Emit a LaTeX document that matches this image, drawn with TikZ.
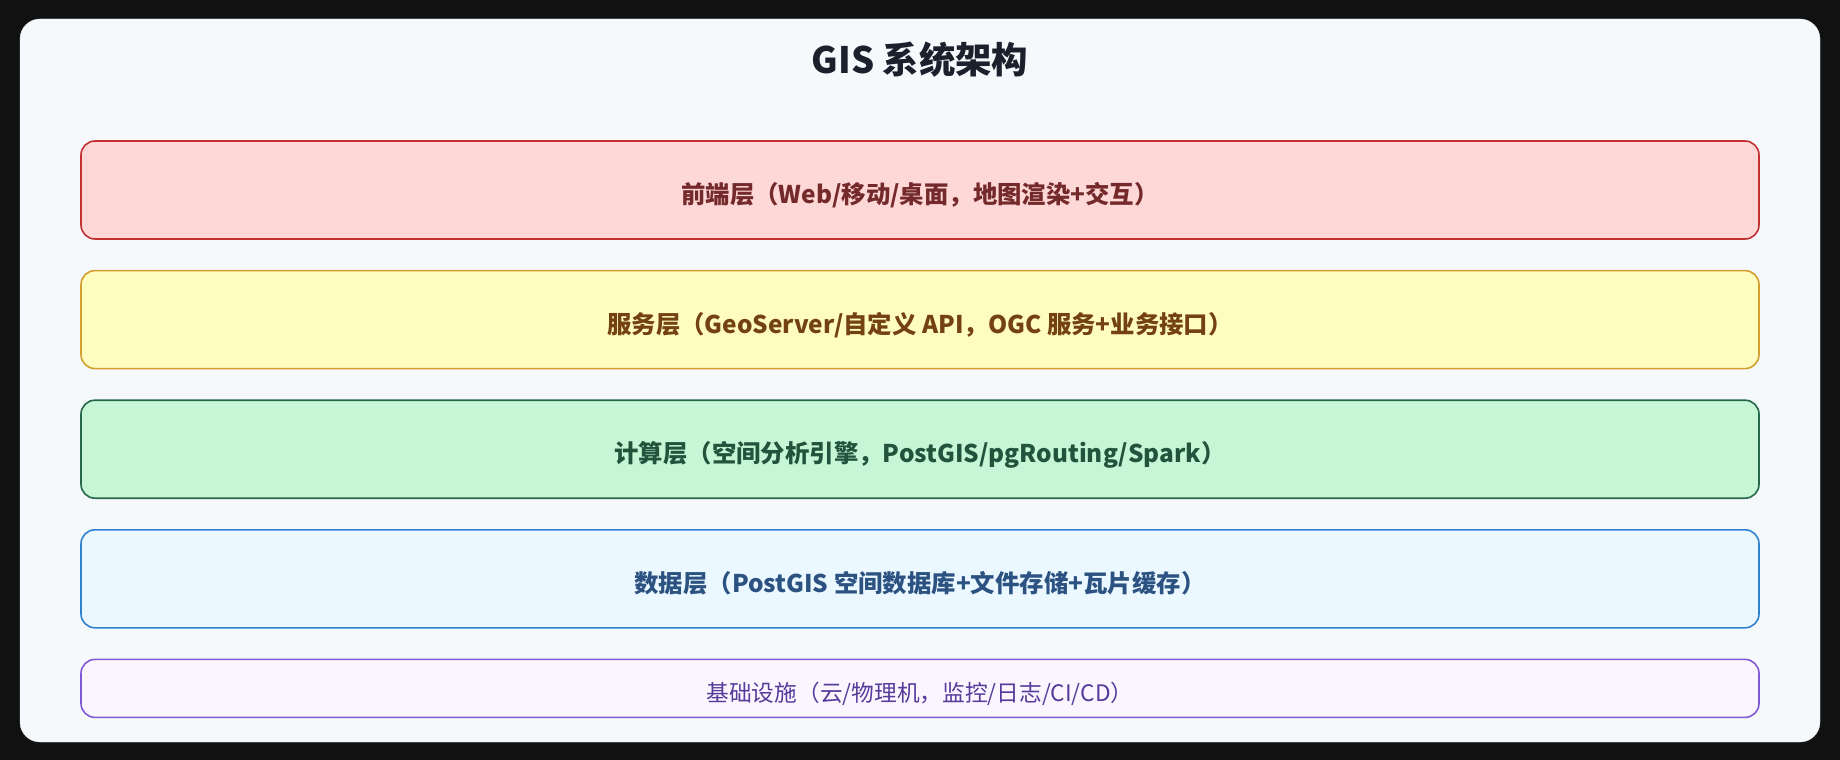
\documentclass[tikz,border=0pt]{standalone}
\usepackage{fontspec}
\setmainfont{Noto Sans CJK SC}
\usetikzlibrary{positioning}

\definecolor{bgdark}{HTML}{111111}
\definecolor{cardbg}{HTML}{F5F9FC}
\definecolor{cardline}{HTML}{E2E8F0}
\definecolor{titletext}{HTML}{1A202C}
\definecolor{frontfill}{HTML}{FED7D7}
\definecolor{frontline}{HTML}{C53030}
\definecolor{fronttext}{HTML}{742A2A}
\definecolor{servicefill}{HTML}{FEFCBF}
\definecolor{serviceline}{HTML}{D69E2E}
\definecolor{servicetext}{HTML}{744210}
\definecolor{computefill}{HTML}{C6F6D5}
\definecolor{computeline}{HTML}{276749}
\definecolor{computetext}{HTML}{22543D}
\definecolor{datafill}{HTML}{EBF8FF}
\definecolor{dataline}{HTML}{3182CE}
\definecolor{datatext}{HTML}{2C5282}
\definecolor{infrafill}{HTML}{FAF5FF}
\definecolor{infraline}{HTML}{805AD5}
\definecolor{infratext}{HTML}{553C9A}

\begin{document}
\begin{tikzpicture}[x=1pt,y=1pt,node distance=30pt,
    layer/.style={draw,line width=1.6pt,rounded corners=14pt,minimum width=1678pt,
                  minimum height=98pt,inner sep=0pt,text height=27pt,text depth=0pt,
                  font=\fontsize{24.4}{29}\selectfont\bfseries}]
    % Hintergrund
    \fill[bgdark] (0,0) rectangle (1840,-760);
    \draw[cardline,fill=cardbg,rounded corners=20pt] (20,-19) rectangle (1820,-742);

    % Titel
    \node[font=\fontsize{36.4}{42}\selectfont\bfseries,text=titletext] (titel) at (920,-60) {GIS 系统架构};

    % Schichten
    \node[layer,draw=frontline,fill=frontfill,text=fronttext] (front) at (920,-190)
        {前端层（Web/移动/桌面，地图渲染+交互）};
    \node[layer,draw=serviceline,fill=servicefill,text=servicetext,below=of front] (service)
        {服务层（GeoServer/自定义 API，OGC 服务+业务接口）};
    \node[layer,draw=computeline,fill=computefill,text=computetext,below=of service] (compute)
        {计算层（空间分析引擎，PostGIS/pgRouting/Spark）};
    \node[layer,draw=dataline,fill=datafill,text=datatext,below=of compute] (data)
        {数据层（PostGIS 空间数据库+文件存储+瓦片缓存）};
    \node[layer,draw=infraline,fill=infrafill,text=infratext,minimum height=58pt,
          font=\fontsize{22.7}{27}\selectfont,below=of data] (infra)
        {基础设施（云/物理机，监控/日志/CI/CD）};
\end{tikzpicture}
\end{document}
